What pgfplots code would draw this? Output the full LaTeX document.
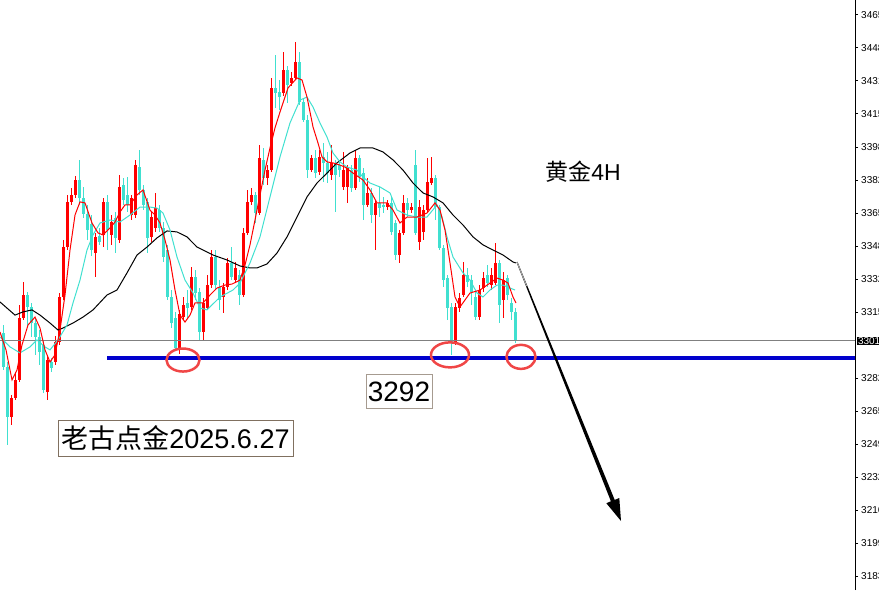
\documentclass[border=0pt]{standalone}
\usepackage{fontspec}
\setmainfont{Liberation Sans}
\newfontfamily\cjk{Noto Sans CJK SC}
\usepackage{pgfplots}
\usepackage{pgfplotstable}
\pgfplotsset{compat=1.18}
\definecolor{cRed}{RGB}{255,0,0}
\definecolor{cTurq}{RGB}{64,224,208}
\definecolor{cBlue}{RGB}{0,0,205}
\definecolor{cCirc}{RGB}{240,70,70}
\definecolor{cBox}{RGB}{128,112,96}

\pgfplotstableread{
i o h l c
0 3305.2 3309.2 3286.6 3288.1
1 3288.1 3290.6 3248.9 3263.0
2 3263.0 3274.0 3259.0 3272.5
3 3272.5 3285.6 3271.5 3281.6
4 3281.6 3319.3 3280.6 3312.7
5 3312.7 3330.8 3311.7 3324.3
6 3324.3 3325.8 3308.2 3318.3
7 3318.3 3320.3 3303.2 3310.2
8 3310.2 3312.7 3294.2 3303.2
9 3303.2 3306.7 3289.1 3295.7
10 3299.2 3301.7 3275.0 3276.5
11 3275.5 3294.2 3271.5 3291.6
12 3290.6 3292.6 3285.6 3287.6
13 3290.6 3303.7 3289.1 3300.7
14 3300.7 3325.3 3299.2 3323.3
15 3323.3 3352.0 3321.8 3348.4
16 3348.4 3374.6 3346.9 3371.1
17 3371.1 3378.1 3369.6 3374.6
18 3374.6 3384.1 3373.1 3382.1
19 3382.1 3392.2 3369.6 3373.1
20 3373.1 3378.6 3363.0 3365.0
21 3365.0 3369.6 3352.0 3357.0
22 3360.0 3364.5 3343.9 3346.9
23 3345.4 3355.5 3333.4 3353.5
24 3354.0 3358.0 3349.5 3351.0
25 3354.5 3373.1 3348.4 3371.1
26 3371.1 3374.6 3346.9 3357.0
27 3354.5 3364.5 3349.5 3361.0
28 3363.0 3366.0 3345.4 3353.0
29 3352.0 3384.6 3350.5 3378.6
30 3379.6 3383.1 3369.6 3372.1
31 3374.6 3383.6 3366.0 3369.6
32 3364.5 3374.6 3362.0 3373.1
33 3364.5 3392.2 3363.0 3389.6
34 3388.6 3397.2 3374.6 3377.1
35 3377.1 3379.6 3367.0 3369.6
36 3371.1 3373.1 3345.4 3353.0
37 3353.5 3366.0 3351.0 3363.5
38 3358.0 3375.6 3356.0 3368.0
39 3367.0 3369.6 3356.0 3358.0
40 3358.0 3361.0 3340.9 3343.4
41 3346.9 3349.5 3321.8 3323.3
42 3323.3 3326.8 3307.7 3310.2
43 3312.7 3315.8 3296.7 3297.7
44 3297.7 3316.8 3294.7 3314.8
45 3313.2 3323.3 3311.7 3319.3
46 3320.3 3326.8 3312.7 3317.8
47 3318.3 3338.4 3316.8 3333.3
48 3333.3 3336.9 3321.8 3325.3
49 3325.8 3327.8 3301.7 3305.7
50 3305.7 3322.8 3301.7 3320.3
51 3317.8 3334.3 3316.8 3329.3
52 3329.3 3346.9 3327.8 3343.4
53 3343.4 3346.9 3326.8 3329.3
54 3328.3 3331.8 3316.8 3321.8
55 3323.3 3330.3 3315.3 3328.3
56 3328.3 3342.9 3326.8 3340.4
57 3340.4 3348.4 3331.8 3333.3
58 3331.8 3340.9 3330.3 3337.9
59 3334.3 3336.9 3319.3 3324.3
60 3324.3 3358.0 3323.3 3355.5
61 3355.5 3377.1 3354.5 3371.1
62 3371.1 3378.1 3369.6 3374.6
63 3374.6 3376.1 3360.5 3365.5
64 3365.5 3399.7 3364.5 3393.2
65 3392.2 3398.2 3379.6 3383.1
66 3383.1 3389.6 3379.6 3387.1
67 3387.1 3433.4 3386.1 3428.4
68 3428.4 3444.9 3418.3 3425.9
69 3426.4 3432.4 3417.3 3423.8
70 3425.9 3446.5 3424.3 3437.4
71 3437.4 3439.4 3420.8 3429.9
72 3430.9 3436.4 3429.4 3433.4
73 3433.4 3451.5 3432.4 3441.4
74 3441.4 3446.5 3419.8 3421.3
75 3421.3 3423.3 3411.3 3412.3
76 3412.3 3414.8 3383.1 3387.1
77 3387.1 3394.7 3386.1 3393.2
78 3393.2 3397.2 3383.1 3385.6
79 3386.1 3397.2 3384.6 3393.7
80 3393.7 3400.7 3381.1 3390.7
81 3390.7 3396.2 3380.6 3385.6
82 3384.6 3399.7 3382.1 3390.7
83 3390.7 3392.2 3366.0 3384.6
84 3389.6 3392.2 3383.6 3387.1
85 3378.6 3396.2 3377.1 3387.1
86 3378.6 3389.6 3370.6 3388.6
87 3387.1 3389.6 3376.1 3378.1
88 3378.1 3397.2 3377.1 3393.2
89 3393.2 3394.7 3381.1 3383.6
90 3385.6 3388.1 3362.0 3369.6
91 3369.6 3383.1 3368.5 3375.6
92 3375.6 3378.1 3360.5 3364.5
93 3364.5 3372.1 3346.9 3370.6
94 3370.6 3378.6 3363.5 3368.0
95 3369.6 3373.6 3365.5 3368.5
96 3368.5 3372.1 3367.0 3370.6
97 3370.6 3373.6 3354.5 3356.0
98 3360.5 3362.0 3341.9 3344.4
99 3344.4 3357.0 3340.4 3355.5
100 3355.5 3374.6 3354.5 3370.6
101 3370.6 3373.1 3363.5 3367.0
102 3367.0 3370.6 3365.5 3368.5
103 3389.6 3397.2 3354.5 3355.5
104 3351.0 3372.1 3346.9 3368.5
105 3356.0 3369.6 3352.0 3367.0
106 3367.0 3393.2 3366.0 3381.1
107 3380.6 3393.7 3379.6 3383.1
108 3383.1 3384.6 3362.0 3368.5
109 3368.5 3369.6 3346.9 3347.9
110 3347.9 3349.5 3328.3 3331.8
111 3332.8 3334.3 3311.7 3317.8
112 3318.3 3320.3 3294.2 3300.7
113 3300.7 3320.3 3299.2 3318.3
114 3317.8 3325.3 3315.8 3322.8
115 3324.3 3340.9 3323.3 3334.3
116 3334.3 3337.9 3328.3 3330.8
117 3331.8 3334.3 3319.3 3325.8
118 3323.3 3326.8 3311.7 3313.2
119 3313.2 3329.3 3311.7 3326.8
120 3327.8 3335.9 3325.8 3332.8
121 3334.3 3339.4 3328.3 3330.3
122 3329.3 3337.9 3326.8 3334.3
123 3330.3 3350.5 3329.3 3340.4
124 3340.4 3341.9 3310.2 3319.3
125 3321.8 3335.9 3312.7 3331.8
126 3332.8 3334.3 3321.8 3324.3
127 3320.3 3322.8 3311.7 3315.8
128 3315.8 3317.8 3300.2 3301.2
}\candles

\begin{document}
\begin{tikzpicture}
\useasboundingbox (0pt,0pt) rectangle (879pt,590pt);
\clip (0pt,0pt) rectangle (879pt,590pt);
\begin{axis}[
  at={(0pt,0pt)}, anchor=south west,
  scale only axis, width=855pt, height=590pt,
  xmin=-0.75, xmax=213, ymin=3176.0, ymax=3472.6,
  axis x line=none, axis y line=right,
  axis line style={-, black, line width=1pt},
  tick align=outside, major tick length=3pt,
  tick style={black, line width=1pt},
  ytick={3465.06,3448.47,3431.88,3415.29,3398.70,3382.11,3365.52,3348.93,3332.34,3315.75,3282.57,3265.98,3249.39,3232.80,3216.21,3199.62,3183.03},
  yticklabels={3465.06,3448.47,3431.88,3415.29,3398.70,3382.11,3365.52,3348.93,3332.34,3315.75,3282.57,3265.98,3249.39,3232.80,3216.21,3199.62,3183.03},
  yticklabel style={font=\fontsize{10}{12}\selectfont, anchor=west, inner sep=0pt, xshift=3pt},
  candle/.style={draw=none, mark=none, forget plot,
    error bars/y dir=both, error bars/y explicit, error bars/error mark=none},
]
% wicks
\addplot[candle, restrict expr to domain={\thisrow{c}-\thisrow{o}}{0:10000},
  error bars/error bar style={draw=cRed, line width=1pt}]
  table[x=i, y expr={(\thisrow{h}+\thisrow{l})/2}, y error expr={(\thisrow{h}-\thisrow{l})/2}] {\candles};
\addplot[candle, restrict expr to domain={\thisrow{c}-\thisrow{o}}{-10000:-0.01},
  error bars/error bar style={draw=cTurq, line width=1pt}]
  table[x=i, y expr={(\thisrow{h}+\thisrow{l})/2}, y error expr={(\thisrow{h}-\thisrow{l})/2}] {\candles};
% bodies
\addplot[candle, restrict expr to domain={\thisrow{c}-\thisrow{o}}{0:10000},
  error bars/error bar style={draw=cRed, line width=3pt}]
  table[x=i, y expr={(\thisrow{o}+\thisrow{c})/2}, y error expr={max(abs(\thisrow{c}-\thisrow{o})/2,0.3)}] {\candles};
\addplot[candle, restrict expr to domain={\thisrow{c}-\thisrow{o}}{-10000:-0.01},
  error bars/error bar style={draw=cTurq, line width=3pt}]
  table[x=i, y expr={(\thisrow{o}+\thisrow{c})/2}, y error expr={max(abs(\thisrow{c}-\thisrow{o})/2,0.3)}] {\candles};
% level lines
\addplot[draw={rgb,255:red,128;green,128;blue,128}, line width=1pt] coordinates {(-0.75,3301.2) (213,3301.2)};
\addplot[cBlue, line width=4.3pt] coordinates {(26,3292.6) (213,3292.6)};
% moving averages
\addplot[black, line width=1pt] coordinates {
(-0.75,3320.8) (3.0,3314.2) (5.0,3315.8) (7.25,3316.8) (9.25,3314.2) (11.75,3310.2) (13.75,3306.7) (15.0,3307.7) (17.5,3310.2) (20.0,3313.2) (22.5,3316.8) (26.0,3324.3) (28.5,3326.8) (31.0,3335.4) (33.5,3344.4) (36.0,3348.4) (38.5,3353.0) (41.0,3356.5) (43.5,3356.0) (46.0,3353.5) (48.5,3348.4) (51.0,3345.9) (52.5,3344.4) (56.0,3341.9) (59.25,3338.9) (61.75,3337.9) (63.5,3337.9) (66.0,3339.9) (68.5,3345.4) (71.0,3353.5) (73.5,3363.5) (76.0,3373.6) (78.5,3380.6) (81.0,3385.6) (83.5,3390.7) (86.75,3395.7) (89.25,3398.2) (92.5,3398.2) (95.0,3396.2) (97.5,3392.2) (100.0,3387.1) (102.5,3380.6) (105.0,3375.6) (107.5,3373.6) (110.0,3370.6) (112.5,3364.5) (115.0,3359.5) (117.5,3353.5) (120.0,3349.5) (122.5,3346.9) (125.0,3344.4) (127.5,3340.9) (128.25,3340.4)};
\addplot[cTurq, line width=1pt] coordinates {
(-0.75,3303.2) (1.75,3298.2) (4.25,3295.2) (6.75,3298.2) (8.5,3301.7) (10.5,3298.2) (11.75,3296.7) (13.75,3301.7) (16.0,3309.2) (17.5,3320.3) (19.25,3331.8) (21.0,3346.9) (22.5,3354.5) (24.25,3360.5) (26.75,3362.0) (29.25,3361.0) (31.75,3364.5) (34.25,3368.5) (36.75,3368.5) (38.5,3368.0) (40.0,3365.5) (41.75,3357.0) (43.5,3343.4) (45.5,3331.8) (47.5,3325.3) (49.25,3317.8) (51.0,3316.8) (54.25,3323.3) (57.5,3326.8) (59.25,3330.3) (61.75,3340.4) (64.25,3353.5) (66.75,3373.6) (69.25,3393.7) (71.75,3410.8) (74.25,3422.3) (76.0,3423.8) (77.5,3418.8) (79.25,3410.8) (81.0,3403.7) (82.5,3395.7) (84.25,3391.2) (86.0,3388.6) (88.5,3387.1) (90.0,3383.6) (91.75,3380.6) (94.25,3378.6) (96.75,3375.6) (98.5,3367.0) (101.0,3364.5) (103.5,3363.5) (106.0,3363.5) (108.5,3369.6) (109.75,3363.5) (111.0,3353.5) (112.5,3343.4) (115.0,3335.4) (116.75,3331.8) (118.5,3325.3) (120.0,3323.3) (121.75,3326.8) (123.5,3329.3) (125.0,3329.3) (126.75,3327.8) (128.0,3326.8)};
\addplot[cRed, line width=1pt] coordinates {
(-0.75,3305.7) (0.75,3296.7) (2.25,3281.6) (3.5,3286.6) (4.75,3299.2) (6.25,3309.2) (8.0,3313.2) (9.25,3307.7) (10.5,3296.7) (11.75,3290.6) (13.0,3294.2) (14.25,3306.7) (15.5,3324.3) (16.75,3346.9) (18.0,3364.5) (19.25,3371.1) (20.5,3370.6) (22.25,3360.5) (23.75,3355.5) (25.0,3354.5) (26.75,3358.0) (28.0,3361.0) (29.25,3366.0) (30.5,3369.6) (31.75,3369.6) (33.5,3374.6) (35.0,3377.1) (36.75,3367.0) (38.0,3364.5) (39.25,3360.5) (40.5,3352.0) (41.75,3341.9) (43.0,3326.8) (44.25,3314.2) (45.5,3310.7) (46.75,3314.2) (48.0,3320.3) (50.0,3320.3) (51.75,3324.3) (53.5,3327.8) (55.5,3329.3) (57.25,3329.8) (59.25,3331.8) (60.5,3339.4) (61.75,3349.5) (63.0,3362.0) (64.25,3374.6) (65.5,3387.1) (66.75,3398.2) (68.0,3408.3) (69.25,3416.3) (71.25,3428.4) (73.5,3433.4) (74.75,3432.4) (76.0,3423.8) (77.5,3408.8) (78.75,3400.7) (79.75,3393.7) (81.0,3391.2) (82.5,3390.7) (84.25,3389.6) (85.5,3388.6) (87.5,3385.6) (90.0,3382.1) (91.75,3377.1) (93.5,3370.6) (96.0,3370.6) (97.5,3367.0) (99.25,3360.5) (101.0,3363.5) (103.5,3363.5) (106.0,3365.5) (108.0,3370.6) (109.25,3367.0) (110.5,3357.0) (111.75,3340.4) (113.0,3323.3) (114.25,3318.3) (116.75,3325.3) (119.25,3326.8) (121.75,3330.3) (123.5,3332.8) (125.0,3331.8) (126.25,3330.3) (127.5,3323.3) (128.25,3320.3)};
% circles
\draw[cCirc, line width=2.5pt] (axis cs:45,3291.6) ellipse [x radius=16.5pt, y radius=11.5pt];
\draw[cCirc, line width=2.5pt] (axis cs:111.75,3294.2) ellipse [x radius=19pt, y radius=12.5pt];
\draw[cCirc, line width=2.5pt] (axis cs:129.5,3293.2) ellipse [x radius=14.5pt, y radius=12pt];
\end{axis}
% current price label
\node[fill=black, text=white, anchor=west, inner sep=0.8pt, font=\fontsize{10}{12}\selectfont] at (857pt,249pt) {3301.20};
% arrow
\fill[black] (517.5pt,328.2pt) -- (614.7pt,90.1pt) -- (619.3pt,92.0pt) -- (621pt,69pt) -- (606.3pt,86.8pt) -- (610.9pt,88.7pt) -- (516.5pt,327.8pt) -- cycle;
\draw[gray!70, line width=1pt] (517pt,328pt) -- (526.7pt,303.9pt);
% texts
\node[draw=cBox, fill=white, line width=1pt, minimum width=235pt, minimum height=36pt, inner sep=0pt, font=\fontsize{27}{30}\selectfont] at (175.5pt,152pt) {{\cjk 老古点金}2025.6.27};
\node[draw=cBox!70, fill=white, line width=1pt, minimum width=66pt, minimum height=33pt, inner sep=0pt, font=\fontsize{28}{30}\selectfont] at (399pt,198.5pt) {3292};
\node[font=\fontsize{23}{26}\selectfont] at (583pt,418pt) {{\cjk 黄金}4H};
\end{tikzpicture}
\end{document}
